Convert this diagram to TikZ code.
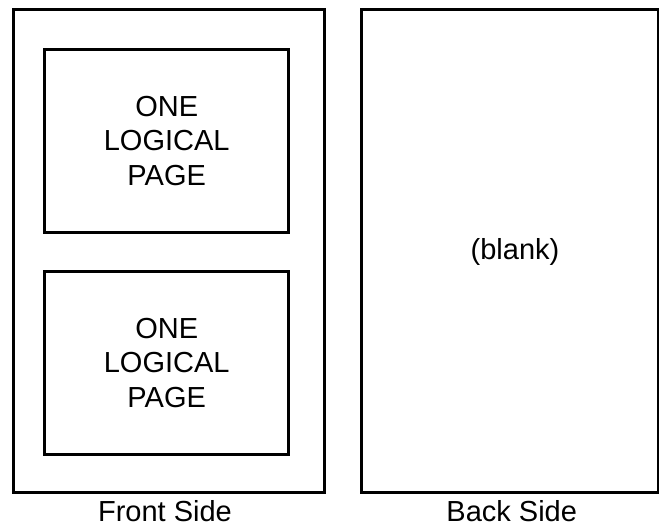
\documentclass[tikz,border=0pt]{standalone}
\usepackage{fontspec}
\setmainfont{Liberation Sans}
\begin{document}
\begin{tikzpicture}[x=1pt,y=-1pt,
  sheet/.style={draw=black, line width=3pt, inner sep=0pt, outer sep=0pt},
  pagetext/.style={font=\fontsize{29}{34.5}\selectfont, align=center},
  caption/.style={font=\fontsize{29}{34.5}\selectfont, anchor=base, inner sep=0pt}]
  \useasboundingbox (0,0) rectangle (659,527);
  \fill[white] (0,0) rectangle (659,527);

  % front sheet with two logical pages
  \node[sheet, minimum width=311.7pt, minimum height=482.3pt] (front) at (168.85,251.15) {};
  \node[sheet, pagetext, minimum width=244pt, minimum height=183.4pt] (page1) at (166.7,141) {ONE\\LOGICAL\\PAGE};
  \node[sheet, pagetext, minimum width=244pt, minimum height=183.7pt] (page2) at (166.7,362.85) {ONE\\LOGICAL\\PAGE};

  % back sheet, left empty
  \node[sheet, minimum width=296.7pt, minimum height=482.5pt] (back) at (509.65,251.25) {};
  \node[pagetext] (blank) at (515,251.6) {(blank)};

  % captions under each sheet
  \node[caption] (frontlabel) at (165,521) {Front Side};
  \node[caption] (backlabel) at (511.7,521) {Back Side};
\end{tikzpicture}
\end{document}
